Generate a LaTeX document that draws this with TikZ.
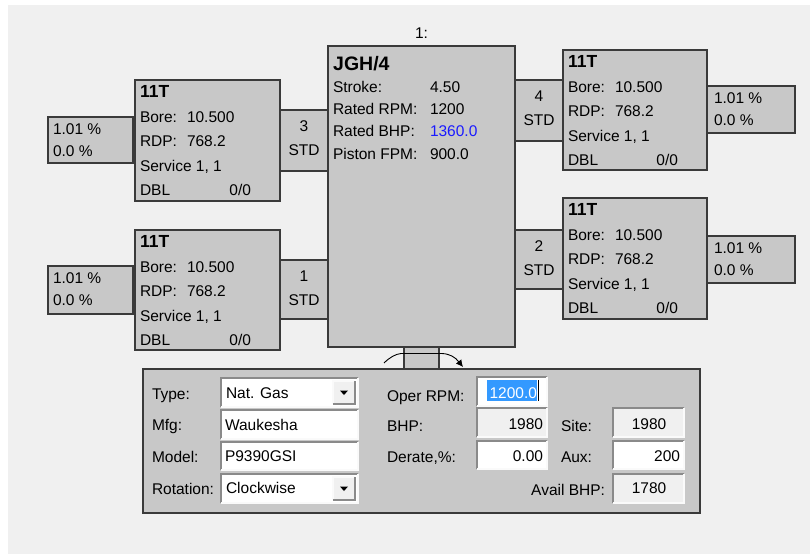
\documentclass[tikz,border=0pt]{standalone}
\usepackage{fontspec}
\setmainfont{Liberation Sans}
\usetikzlibrary{calc,arrows.meta,fit}
\definecolor{bgc}{HTML}{F0F0F0}
\definecolor{bx}{HTML}{C8C8C8}
\definecolor{bd}{HTML}{3A3A3A}
\definecolor{hl}{HTML}{3399FF}
\definecolor{vblue}{HTML}{1A1AFF}
\definecolor{bevdk}{HTML}{8A8A8A}
\definecolor{bevlt}{HTML}{FAFAFA}
\newcommand\nf{\fontsize{15.5}{18}\selectfont}
\newcommand\bfl{\fontsize{17.5}{20}\selectfont\bfseries}
\newcommand\bfx{\fontsize{19.5}{22}\selectfont\bfseries}
\tikzset{
  box/.style={draw=bd, fill=bx, line width=1.2pt, inner sep=0pt, outer sep=0pt},
  txt/.style={anchor=base west, inner sep=0pt, outer sep=0pt, font=\nf},
  txtr/.style={anchor=base east, inner sep=0pt, outer sep=0pt, font=\nf},
  txtc/.style={anchor=base, inner sep=0pt, outer sep=0pt, font=\nf},
  ttl/.style={anchor=base west, inner sep=0pt, outer sep=0pt, font=\bfl},
  fld/.style={inner sep=0pt, outer sep=0pt},
  dk/.style={draw=bevdk, line width=1.3pt},
  lt/.style={draw=bevlt, line width=1.3pt},
  rotarrow/.style={draw=black, line width=0.9pt, -{Latex[length=7pt,width=7pt]}}
}
\newcommand\ttbox[5]{% name x1 y1 x2 y2
  \node[box, fit={(#2,#3) (#4,#5)}] (#1) {};
  \node[ttl] (#1-t) at ($(#1.north west)+(5,17.5)$) {11T};
  \node[txt] (#1-b) at ($(#1.north west)+(5,42)$) {Bore:};
  \node[txt] (#1-bv) at ($(#1.north west)+(52,42)$) {10.500};
  \node[txt] (#1-r) at ($(#1.north west)+(5,66.5)$) {RDP:};
  \node[txt] (#1-rv) at ($(#1.north west)+(52,66.5)$) {768.2};
  \node[txt] (#1-s) at ($(#1.north west)+(5,91)$) {Service 1, 1};
  \node[txt] (#1-d) at ($(#1.north west)+(5,115.5)$) {DBL};
  \node[txtr] (#1-dv) at ($(#1.north east)+(-29,115.5)$) {0/0};
}
\newcommand\pcbox[6]{% name x1 y1 x2 y2 xoff
  \node[box, fit={(#2,#3) (#4,#5)}] (#1) {};
  \node[txt] (#1-a) at ($(#1.north west)+(#6,17.5)$) {1.01 \%};
  \node[txt] (#1-b) at ($(#1.north west)+(#6,39)$) {0.0 \%};
}
\newcommand\lkbox[6]{% name x1 y1 x2 y2 number
  \node[box, fit={(#2,#3) (#4,#5)}] (#1) {};
  \node[txtc] (#1-n) at ($(#1.north)+(0,21)$) {#6};
  \node[txtc] (#1-s) at ($(#1.north)+(0,45)$) {STD};
}
\newcommand\field[6]{% name x1 y1 x2 y2 fill
  \node[fld, fill=#6, fit={(#2,#3) (#4,#5)}] (#1) {};
  \draw[dk] (#1.south west) -- (#1.north west) -- (#1.north east);
  \draw[lt] (#1.north east) -- (#1.south east) -- (#1.south west);
}
\newcommand\ddbtn[5]{% name x1 y1 x2 y2
  \node[fld, fill=bgc, fit={(#2,#3) (#4,#5)}] (#1) {};
  \draw[lt] (#1.south west) -- (#1.north west) -- (#1.north east);
  \draw[dk] (#1.north east) -- (#1.south east) -- (#1.south west);
  \fill[black] ($(#1.center)+(-4,-2)$) -- ($(#1.center)+(4,-2)$) -- ($(#1.center)+(0,2.5)$) -- cycle;
}
\begin{document}
\begin{tikzpicture}[x=1pt,y=-1pt]
\useasboundingbox (0,0) rectangle (810,554);
\fill[white] (0,0) rectangle (810,554);
\fill[bgc] (8,5) rectangle (810,554);

% label above main block
\node[txt] (lbl1) at (415,38) {1:};

% link boxes (behind blocks)
\lkbox{l3}{280}{110}{328}{171}{3}
\lkbox{l1}{280}{260}{328}{319}{1}
\lkbox{l4}{515}{80}{563}{141}{4}
\lkbox{l2}{515}{230}{563}{289}{2}

% main frame
\node[box, fit={(328,46) (515,347)}] (main) {};
\node[anchor=base west, inner sep=0pt, font=\bfx] (mt) at ($(main.north west)+(5,24)$) {JGH/4};
\node[txt] (m1) at ($(main.north west)+(5,46)$) {Stroke:};
\node[txt] (m1v) at ($(main.north west)+(102,46)$) {4.50};
\node[txt] (m2) at ($(main.north west)+(5,68)$) {Rated RPM:};
\node[txt] (m2v) at ($(main.north west)+(102,68)$) {1200};
\node[txt] (m3) at ($(main.north west)+(5,90.5)$) {Rated BHP:};
\node[txt, text=vblue] (m3v) at ($(main.north west)+(102,90.5)$) {1360.0};
\node[txt] (m4) at ($(main.north west)+(5,113)$) {Piston FPM:};
\node[txt] (m4v) at ($(main.north west)+(102,113)$) {900.0};

% cylinders
\ttbox{tl}{135}{80}{280}{201}
\ttbox{bl}{135}{230}{280}{350}
\ttbox{tr}{563}{50}{707}{170}
\ttbox{br}{563}{198}{707}{319}

% percent boxes
\pcbox{ptl}{48}{117}{133}{163}{5}
\pcbox{pbl}{48}{266}{133}{314}{5}
\pcbox{ptr}{707}{86}{795}{133}{7}
\pcbox{pbr}{707}{236}{795}{283}{7}

% shaft and rotation arrow
\node[box, fit={(404,347) (439,369)}] (shaft) {};
\coordinate (rl) at (384,363);
\coordinate (s1) at (401,353.5);
\coordinate (s2) at (442,353.5);
\coordinate (rr) at (463,367);
\draw[draw=black, line width=0.9pt] (rl) .. controls (390,357) and (396,354) .. (s1) -- (s2);
\draw[rotarrow] (s2) .. controls (450,354) and (455,357) .. (rr);

% driver panel
\node[box, fit={(143,369) (700,513)}] (panel) {};
\node[txt] (pt1) at (152,399) {Type:};
\node[txt] (pt2) at (152,430.5) {Mfg:};
\node[txt] (pt3) at (152,462.5) {Model:};
\node[txt] (pt4) at (152,494) {Rotation:};

\field{ftype}{221}{378}{358}{407}{white}
\field{fmfg}{221}{410}{358}{439}{white}
\field{fmodel}{221}{442}{358}{470}{white}
\field{frot}{221}{474}{358}{503}{white}
\ddbtn{btype}{333}{381}{355}{404}
\ddbtn{brot}{333}{477}{355}{500}
\node[txt] (vt1) at (226,398.5) {Nat. Gas};
\node[txt] (vt2) at (225,430) {Waukesha};
\node[txt] (vt3) at (225,461.5) {P9390GSI};
\node[txt] (vt4) at (226,493) {Clockwise};

\node[txt] (po1) at (387,401) {Oper RPM:};
\node[txt] (po2) at (387,431.5) {BHP:};
\node[txt] (po3) at (387,462.5) {Derate,\%:};
\node[txt] (ps1) at (561,431.5) {Site:};
\node[txt] (ps2) at (561,462.5) {Aux:};
\node[txtr] (ps3) at (605,495.5) {Avail BHP:};

\field{foper}{477}{377}{547}{406}{white}
\field{fbhp}{477}{408}{547}{437}{bgc}
\field{fder}{477}{441}{547}{469}{white}
\field{fsite}{613}{408}{684}{437}{bgc}
\field{faux}{613}{441}{684}{469}{white}
\field{favail}{613}{474}{684}{503}{bgc}

\node[fld, fill=hl, fit={(487,380) (537,401)}] (sel) {};
\node[txtr, text=white] (vo1) at (537,398.5) {1200.0};
\draw[black, line width=0.8pt] (538.5,380) -- (538.5,401);
\node[txtr] (vo2) at (543,429.5) {1980};
\node[txtr] (vo3) at (543,461) {0.00};
\node[txtc] (vs1) at (649,429.5) {1980};
\node[txtr] (vs2) at (680,461) {200};
\node[txtc] (vs3) at (649,493) {1780};
\end{tikzpicture}
\end{document}
